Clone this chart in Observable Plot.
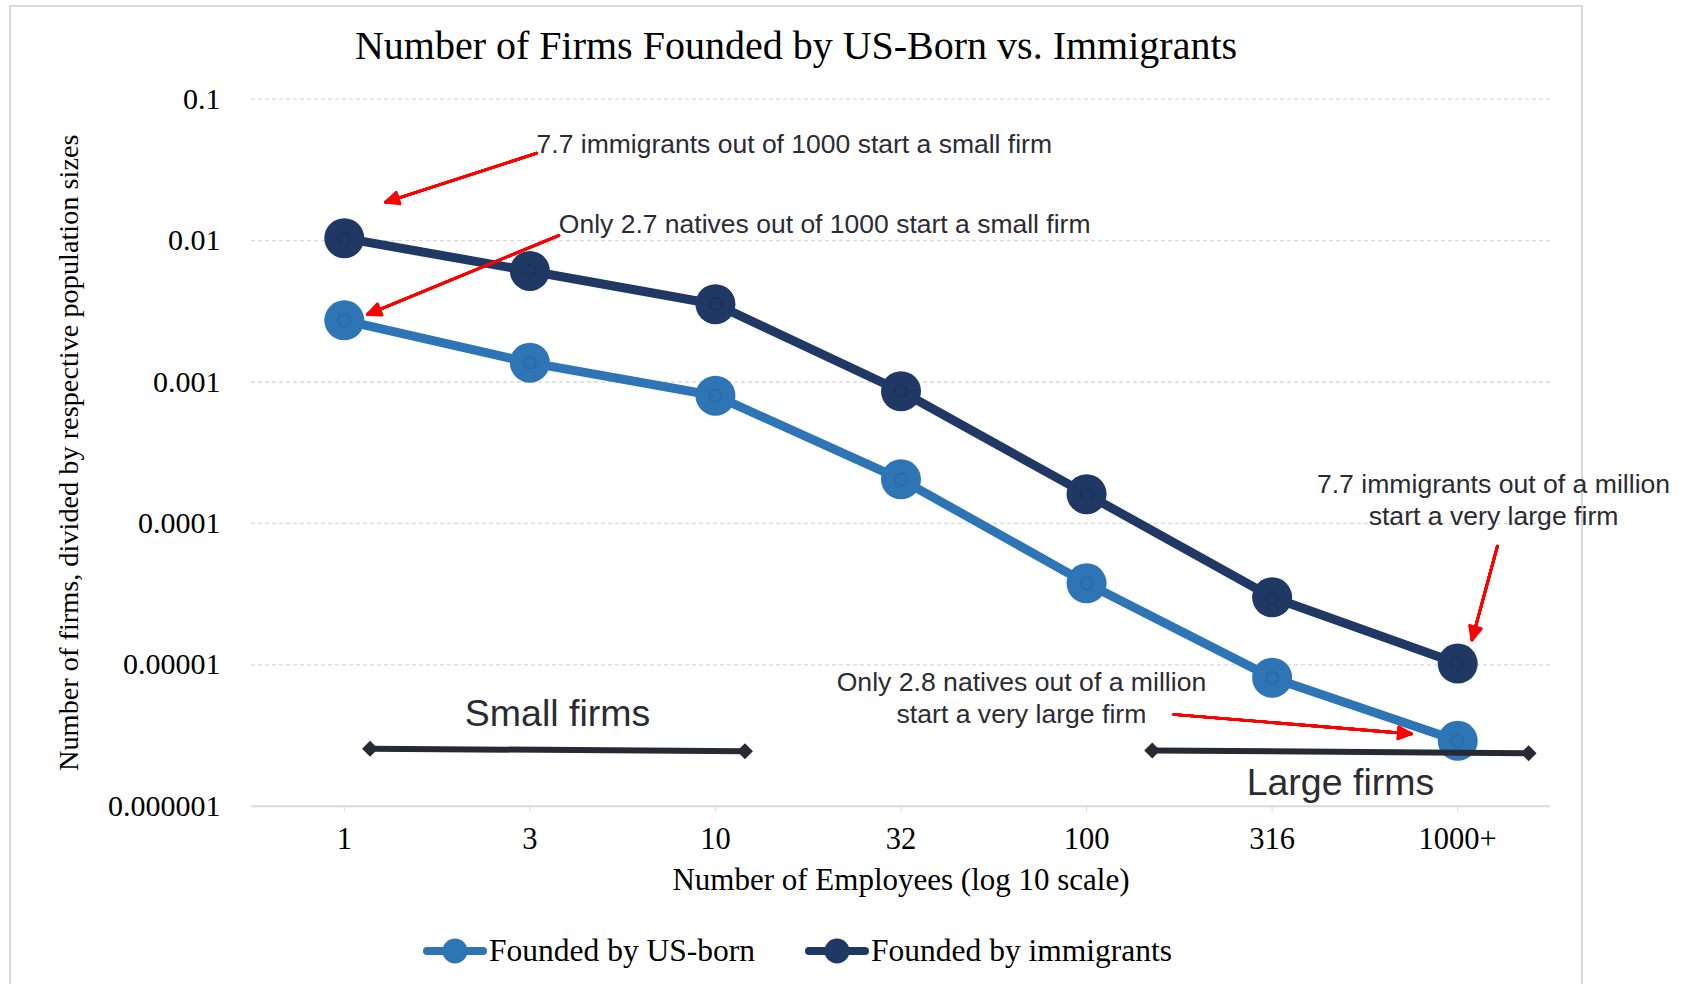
<!DOCTYPE html>
<html><head><meta charset="utf-8">
<script src="https://cdn.jsdelivr.net/npm/d3@7"></script>
<script src="https://cdn.jsdelivr.net/npm/@observablehq/plot@0.6"></script>
<style>
body{margin:0;background:#fff;}
#frame{position:absolute;left:9px;top:5px;width:1574px;height:1000px;border:2px solid #d9d9d9;box-sizing:border-box;z-index:0;}
#chart{position:absolute;left:0;top:0;width:1683px;z-index:1;}
#title{width:1592px;height:78px;box-sizing:border-box;padding-top:26px;font-family:"Liberation Serif",serif;font-size:40px;line-height:40px;text-align:center;color:#000;white-space:nowrap;}
#legend{height:82px;width:1595px;display:flex;justify-content:center;align-items:center;font-family:"Liberation Serif",serif;font-size:31.5px;color:#000;white-space:nowrap;}
.item{display:flex;align-items:center;}
.item svg{display:block;margin-right:2px;}
</style></head>
<body>
<div id="frame"></div>
<div id="chart">
  <div id="title">Number of Firms Founded by US-Born vs. Immigrants</div>
  <div id="plot"></div>
  <div id="legend"></div>
</div>
<script>
// ---- data ----
const xLabels = ["1", "3", "10", "32", "100", "316", "1000+"];
const usBorn = [0.00273, 0.00137, 0.00080, 0.000205, 0.0000377, 0.0000081, 0.0000029];
const immigrants = [0.0104, 0.0061, 0.00355, 0.00086, 0.000161, 0.0000300, 0.0000102];
const seriesNames = ["Founded by US-born", "Founded by immigrants"];
const seriesColors = ["#2E75B6", "#203864"];
const yTicks = [1e-6, 1e-5, 1e-4, 1e-3, 1e-2, 1e-1];
const yTickLabels = ["0.000001", "0.00001", "0.0001", "0.001", "0.01", "0.1"];
const xTitle = "Number of Employees (log 10 scale)";
const yTitle = "Number of firms, divided by respective population sizes";

// annotations (data units: x = category index, y = value)
const noteText = ["7.7 immigrants out of 1000 start a small firm",
                  "Only 2.7 natives out of 1000 start a small firm",
                  "7.7 immigrants out of a million\nstart a very large firm",
                  "Only 2.8 natives out of a million\nstart a very large firm"];
const noteX = [1.036, 1.156, 6.193, 3.649];
const noteY = [0.0479, 0.0130, 1.49e-4, 5.97e-6];
const arrowX1 = [1.036, 1.156, 6.214, 4.470];
const arrowY1 = [0.0415, 0.01087, 6.9e-5, 4.45e-6];
const arrowX2 = [0.222, 0.125, 6.077, 5.751];
const arrowY2 = [0.0187, 0.0030, 1.50e-5, 3.25e-6];
const bracketLabels = ["Small firms", "Large firms"];
const bracketX1 = [0.139, 4.354];
const bracketX2 = [2.159, 6.382];
const bracketY1 = [2.55e-6, 2.48e-6];
const bracketY2 = [2.45e-6, 2.37e-6];
const bracketLabelX = [1.149, 5.368];
const bracketLabelY = [4.52e-6, 1.46e-6];

// ---- tables ----
const rows = [];
seriesNames.forEach((s, k) => {
  const vals = k === 0 ? usBorn : immigrants;
  xLabels.forEach((lab, i) => rows.push({i, s, v: vals[i], c: seriesColors[k]}));
});
const notes = noteText.map((t, k) => ({t, x: noteX[k], y: noteY[k]}));
const arrows = arrowX1.map((_, k) => ({x1: arrowX1[k], y1: arrowY1[k], x2: arrowX2[k], y2: arrowY2[k]}));
const brackets = bracketLabels.map((t, k) => ({t, x1: bracketX1[k], x2: bracketX2[k], y1: bracketY1[k], y2: bracketY2[k], lx: bracketLabelX[k], ly: bracketLabelY[k]}));
const bracketEnds = brackets.flatMap(b => [{x: b.x1, y: b.y1}, {x: b.x2, y: b.y2}]);

const sans = "Liberation Sans, Arial, sans-serif";
const textCol = "#2b2b33";
const arrowRed = "#ff0000";

// filled arrowheads: fan of wings with constant depth
const headAngles = [50, 42, 34, 26, 18, 10, 2];
const headDepth = 7.4; // scaled by stroke width inside Plot
const arrowMarks = headAngles.map(a => Plot.arrow(arrows, {
  x1: "x1", y1: "y1", x2: "x2", y2: "y2", stroke: arrowRed, strokeWidth: 2.7,
  headAngle: a, headLength: headDepth / Math.cos((a / 2) * Math.PI / 180)
}));

const chart = Plot.plot({
  width: 1683,
  height: 832,
  marginTop: 20.7,
  marginBottom: 104.3,
  marginLeft: 251,
  marginRight: 133,
  style: {fontFamily: "Liberation Serif, serif", fontSize: "30px", color: "#000", background: "transparent", overflow: "visible"},
  x: {type: "linear", domain: [-0.5, 6.5]},
  y: {type: "log", domain: [1e-6, 0.1]},
  marks: [
    Plot.ruleY(yTicks.slice(1), {stroke: "#d9d9d9", strokeWidth: 1.3, strokeDasharray: "4,3"}),
    Plot.ruleY(yTicks.slice(0, 1), {stroke: "#d9d9d9", strokeWidth: 2}),
    Plot.axisX({ticks: d3.range(xLabels.length), tickFormat: i => xLabels[i], tickSize: 6, tickPadding: 15, stroke: "#d9d9d9", fill: "#000", label: null, fontSize: 30.5}),
    Plot.axisY({ticks: yTicks, tickFormat: d => yTickLabels[yTicks.indexOf(d)], tickSize: 0, tickPadding: 31, fill: "#000", label: null, fontSize: 30}),
    Plot.text([xTitle], {frameAnchor: "bottom", dy: 73.6, lineAnchor: "middle", text: d => d, fontSize: 31, fill: "#000"}),
    Plot.text([yTitle], {frameAnchor: "left", dx: -183, rotate: -90, textAnchor: "middle", lineAnchor: "middle", text: d => d, fontSize: 28.3, fill: "#000"}),
    Plot.line(rows, {x: "i", y: "v", z: "s", stroke: "c", strokeWidth: 9, strokeLinejoin: "round"}),
    Plot.dot(rows, {x: "i", y: "v", r: 20, fill: "c", stroke: "none"}),
    Plot.dot(rows, {x: "i", y: "v", r: 6, fill: "none", stroke: "#000", strokeOpacity: 0.12, strokeWidth: 1.2}),
    Plot.link(brackets, {x1: "x1", y1: "y1", x2: "x2", y2: "y2", stroke: "#262a35", strokeWidth: 6}),
    Plot.dot(bracketEnds, {x: "x", y: "y", symbol: "diamond2", r: 7.2, fill: "#262a35", stroke: "none"}),
    Plot.text(brackets, {x: "lx", y: "ly", text: "t", fontFamily: sans, fontSize: 37.5, fill: textCol, textAnchor: "middle", lineAnchor: "middle"}),
    ...arrowMarks,
    Plot.text(notes.slice(0, 2), {x: "x", y: "y", text: "t", fontFamily: sans, fontSize: 26.5, fill: textCol, textAnchor: "start", lineAnchor: "middle"}),
    Plot.text(notes.slice(2), {x: "x", y: "y", text: "t", fontFamily: sans, fontSize: 26.6, fill: textCol, textAnchor: "middle", lineAnchor: "middle", lineHeight: 1.2})
  ]
});
document.getElementById("plot").appendChild(chart);

// legend
const legend = document.getElementById("legend");
seriesNames.forEach((name, k) => {
  const item = document.createElement("div");
  item.className = "item";
  if (k > 0) item.style.marginLeft = "50px";
  item.innerHTML = `<svg width="64" height="30"><line x1="4" y1="15" x2="60" y2="15" stroke="${seriesColors[k]}" stroke-width="8" stroke-linecap="round"/><circle cx="32" cy="15" r="12.5" fill="${seriesColors[k]}"/></svg><span>${name}</span>`;
  legend.appendChild(item);
});
</script>
</body></html>
